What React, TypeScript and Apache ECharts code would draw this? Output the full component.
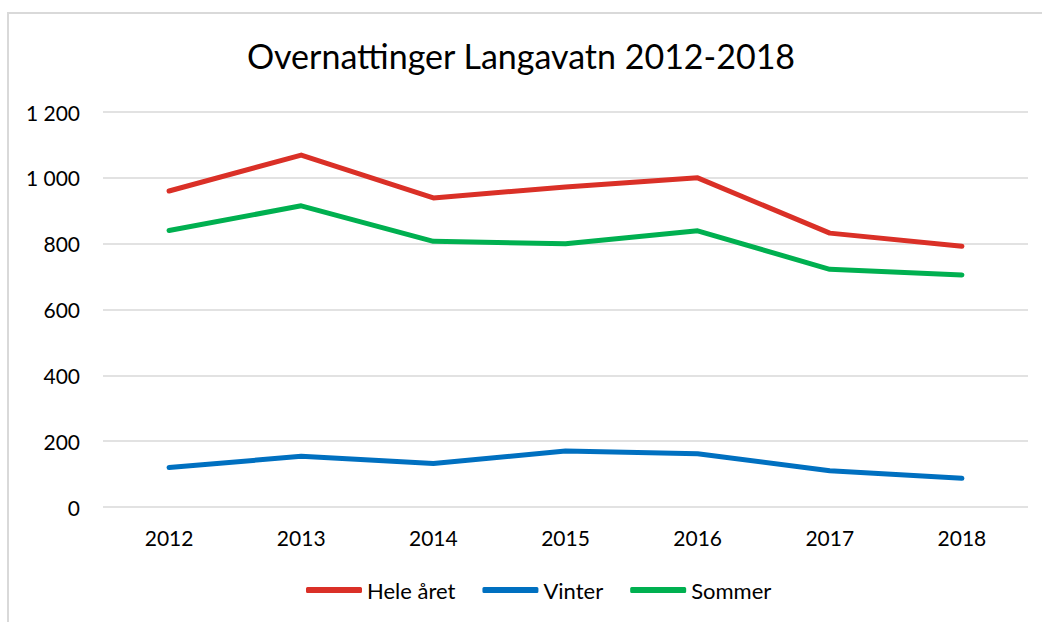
import React, { useEffect, useRef } from "react";
import * as echarts from "echarts";

const years = ["2012", "2013", "2014", "2015", "2016", "2017", "2018"];
const heleAret = [960, 1069, 939, 972, 1000, 832, 792];
const vinter = [120, 154, 132, 170, 162, 110, 87];
const sommer = [840, 915, 807, 800, 839, 722, 705];
const yTicks = { min: 0, max: 1200, interval: 200 };

const FONT = "Lato, 'Open Sans', sans-serif";

export default function App() {
  const ref = useRef<HTMLDivElement>(null);
  useEffect(() => {
    if (!ref.current) return;
    const chart = echarts.init(ref.current, null, { renderer: "svg" });
    const lineSeries = (name: string, data: number[], color: string) => ({
      name,
      type: "line",
      data,
      symbol: "none",
      color,
      lineStyle: { width: 5, color, cap: "round", join: "round" },
    });
    chart.setOption({
      animation: false,
      backgroundColor: "#ffffff",
      textStyle: { fontFamily: FONT },
      title: {
        text: "Overnattinger Langavatn 2012-2018",
        left: "center",
        top: 33,
        textStyle: { fontFamily: FONT, fontSize: 34, fontWeight: "normal", color: "#000" },
      },
      graphic: [
        {
          type: "rect",
          shape: { x: 8, y: 13, width: 1200, height: 800 },
          style: { fill: "none", stroke: "#d9d9d9", lineWidth: 2 },
          silent: true,
          z: -1,
        },
      ],
      legend: {
        left: 301,
        top: 573,
        itemWidth: 56,
        itemHeight: 6,
        itemGap: 27,
        icon: "roundRect",
        textStyle: { fontFamily: FONT, fontSize: 22, color: "#000", lineHeight: 24 },
        data: ["Hele året", "Vinter", "Sommer"],
      },
      grid: { left: 103, right: 14, top: 112, bottom: 115, containLabel: false },
      xAxis: {
        type: "category",
        data: years,
        boundaryGap: true,
        axisLine: { show: false },
        axisTick: { show: false },
        axisLabel: { fontFamily: FONT, fontSize: 21, color: "#000", margin: 20 },
      },
      yAxis: {
        type: "value",
        min: yTicks.min,
        max: yTicks.max,
        interval: yTicks.interval,
        axisLine: { show: false },
        axisTick: { show: false },
        splitLine: { lineStyle: { color: "#d9d9d9", width: 1.5 } },
        axisLabel: {
          fontFamily: FONT,
          fontSize: 21,
          color: "#000",
          margin: 23,
          formatter: (v: number) => String(v).replace(/\B(?=(\d{3})+(?!\d))/g, " "),
        },
      },
      series: [
        lineSeries("Hele året", heleAret, "#DA3027"),
        lineSeries("Vinter", vinter, "#0070C0"),
        lineSeries("Sommer", sommer, "#00B050"),
      ],
    });
    return () => chart.dispose();
  }, []);
  return (
    <div
      ref={ref}
      style={{ position: "fixed", left: 0, top: 0, width: 1042, height: 622 }}
    />
  );
}
